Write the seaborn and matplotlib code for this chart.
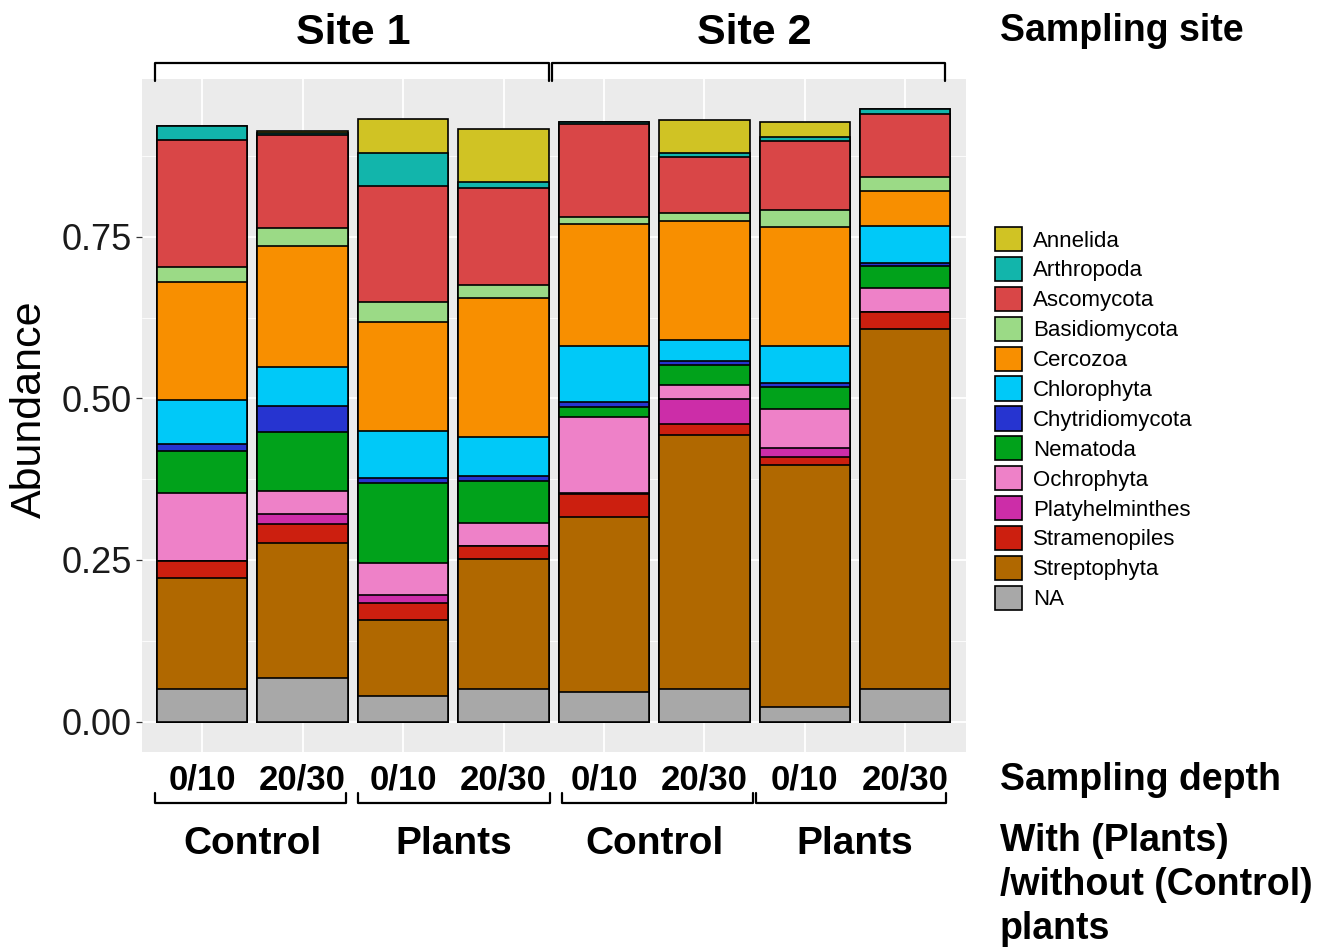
import numpy as np
import pandas as pd
import matplotlib
matplotlib.use("Agg")
import matplotlib.pyplot as plt
from matplotlib import font_manager
from matplotlib.patches import Patch
from matplotlib.lines import Line2D
from matplotlib.transforms import blended_transform_factory
from matplotlib.ticker import FixedLocator
import seaborn as sns

# ---- data -------------------------------------------------------------
samples = ["S1_C_0/10", "S1_C_20/30", "S1_P_0/10", "S1_P_20/30",
           "S2_C_0/10", "S2_C_20/30", "S2_P_0/10", "S2_P_20/30"]
depth_labels = ["0/10", "20/30", "0/10", "20/30", "0/10", "20/30", "0/10", "20/30"]
treatment_labels = ["Control", "Plants", "Control", "Plants"]
site_labels = ["Site 1", "Site 2"]

# relative abundance of each phylum per sample (bars are stacked, first on top)
annelida        = [0.000, 0.003, 0.052, 0.082, 0.000, 0.050, 0.023, 0.000]
arthropoda      = [0.023, 0.002, 0.051, 0.009, 0.004, 0.006, 0.006, 0.007]
ascomycota      = [0.196, 0.145, 0.180, 0.151, 0.144, 0.088, 0.106, 0.098]
basidiomycota   = [0.023, 0.028, 0.031, 0.019, 0.010, 0.011, 0.027, 0.021]
cercozoa        = [0.183, 0.187, 0.168, 0.215, 0.189, 0.184, 0.184, 0.054]
chlorophyta     = [0.068, 0.060, 0.073, 0.061, 0.087, 0.033, 0.058, 0.057]
chytridiomycota = [0.010, 0.040, 0.008, 0.008, 0.007, 0.006, 0.005, 0.005]
nematoda        = [0.065, 0.092, 0.124, 0.065, 0.016, 0.032, 0.034, 0.035]
ochrophyta      = [0.106, 0.035, 0.049, 0.036, 0.117, 0.021, 0.060, 0.036]
platyhelminthes = [0.000, 0.016, 0.013, 0.000, 0.002, 0.038, 0.015, 0.000]
stramenopiles   = [0.026, 0.029, 0.026, 0.019, 0.035, 0.017, 0.012, 0.027]
streptophyta    = [0.172, 0.209, 0.118, 0.202, 0.271, 0.394, 0.374, 0.557]
na_taxon        = [0.050, 0.067, 0.039, 0.050, 0.046, 0.050, 0.023, 0.050]

taxa = ["Annelida", "Arthropoda", "Ascomycota", "Basidiomycota", "Cercozoa",
        "Chlorophyta", "Chytridiomycota", "Nematoda", "Ochrophyta",
        "Platyhelminthes", "Stramenopiles", "Streptophyta", "NA"]
values = [annelida, arthropoda, ascomycota, basidiomycota, cercozoa,
          chlorophyta, chytridiomycota, nematoda, ochrophyta,
          platyhelminthes, stramenopiles, streptophyta, na_taxon]
colors = ["#D0C324", "#12B5AB", "#D94647", "#9BDA86", "#F88F00",
          "#00C9F8", "#2634D0", "#01A21B", "#EE81C8", "#CC2DA8",
          "#CC1F0F", "#B06800", "#A8A8A8"]

# ---- fonts ------------------------------------------------------------
def available(name):
    try:
        font_manager.findfont(font_manager.FontProperties(family=name),
                              fallback_to_default=False)
        return True
    except Exception:
        return False

regular = "Liberation Sans" if available("Liberation Sans") else "DejaVu Sans"
narrow = "Liberation Sans Narrow" if available("Liberation Sans Narrow") else regular
is_narrow = narrow != regular

sns.set_theme(style="darkgrid")
plt.rcParams["font.family"] = [regular, "DejaVu Sans"]
plt.rcParams["text.color"] = "black"

W, H = 1326, 949
fig = plt.figure(figsize=(W / 100, H / 100), dpi=100)
fig.patch.set_facecolor("white")
ax = fig.add_axes([142 / W, 1 - 752 / H, (965.5 - 142) / W, (752 - 79) / H])

# ---- stacked bars: draw cumulative totals from the top layer down -------
df = pd.DataFrame({t: v for t, v in zip(taxa, values)}, index=samples)
cum = df[taxa[::-1]].cumsum(axis=1)          # NA at the bottom, Annelida on top
long = cum.reset_index().rename(columns={"index": "sample"})

for taxon, col in zip(taxa, colors):
    sns.barplot(data=long, x="sample", y=taxon, order=samples, color=col,
                saturation=1, width=0.9, edgecolor="black", linewidth=1.2,
                errorbar=None, ax=ax)

ax.set_xlim(-0.6, 7.6)
ax.set_ylim(-0.047, 0.994)
ax.set_facecolor("#EBEBEB")
for s in ax.spines.values():
    s.set_visible(False)
ax.set_axisbelow(True)
ax.set_yticks([0, 0.25, 0.5, 0.75])
ax.set_yticklabels(["0.00", "0.25", "0.50", "0.75"])
ax.yaxis.set_minor_locator(FixedLocator([0.125, 0.375, 0.625, 0.875]))
ax.grid(which="major", color="white", linewidth=1.3)
ax.grid(which="minor", axis="y", color="white", linewidth=0.6)
ax.grid(which="minor", axis="x", visible=False)
ax.tick_params(axis="y", which="major", length=4.5, width=0.9, color="#333333",
               pad=3, labelsize=26, labelcolor="#1A1A1A", left=True)
ax.tick_params(axis="y", which="minor", length=0)
ax.tick_params(axis="x", length=0, labelbottom=False)
ax.set_xlabel("")
ax.set_ylabel("")

fig.text(30 / W, 1 - 409 / H, "Abundance", rotation=90, ha="center", va="center",
         fontsize=31, color="black")

# ---- group annotations -------------------------------------------------
tr = blended_transform_factory(ax.transData, fig.transFigure)

def fy(py):
    return 1 - py / H

def bracket(x0, x1, y_line, y_end):
    xs = [x0, x0, x1, x1]
    ys = [fy(y_end), fy(y_line), fy(y_line), fy(y_end)]
    fig.add_artist(Line2D(xs, ys, transform=tr, color="black", linewidth=1.6,
                          solid_joinstyle="round", clip_on=False))

site_size = 34 if is_narrow else 31
depth_size = 30 if is_narrow else 25
treat_size = 30 if is_narrow else 28
label_family = [narrow, "DejaVu Sans"]

# sites on top
bracket(-0.47, 3.45, 63, 81)
bracket(3.48, 7.40, 63, 81)
for i, lab in enumerate(site_labels):
    fig.text(1.5 + 4 * i, fy(44), lab, transform=tr, ha="center", va="baseline",
             fontsize=site_size, fontweight="bold", family=label_family)

# depths under each bar
for i, lab in enumerate(depth_labels):
    fig.text(i, fy(790), lab, transform=tr, ha="center", va="baseline",
             fontsize=depth_size, fontweight="bold", family=label_family)

# treatments
for (x0, x1) in [(-0.47, 1.43), (1.55, 3.46), (3.58, 5.48), (5.51, 7.41)]:
    bracket(x0, x1, 803, 793)
for i, lab in enumerate(treatment_labels):
    fig.text(0.5 + 2 * i, fy(854), lab, transform=tr, ha="center", va="baseline",
             fontsize=treat_size, fontweight="bold", family=label_family)

# right-hand captions
fig.text(1000 / W, fy(41), "Sampling site", ha="left", va="baseline",
         fontsize=27, fontweight="bold")
fig.text(1000 / W, fy(790), "Sampling depth", ha="left", va="baseline",
         fontsize=27, fontweight="bold")
for j, line in enumerate(["With (Plants)", "/without (Control)", "plants"]):
    fig.text(1000 / W, fy(851 + 44 * j), line, ha="left", va="baseline",
             fontsize=27, fontweight="bold")

# ---- legend ------------------------------------------------------------
handles = [Patch(facecolor=c, edgecolor="black", linewidth=1.2, label=t)
           for t, c in zip(taxa, colors)]
fig.legend(handles=handles, loc="upper left",
           bbox_to_anchor=(995 / W, fy(227)), frameon=False, fontsize=16,
           handlelength=1.2, handleheight=1.3, labelspacing=0.24,
           handletextpad=0.5, borderpad=0, borderaxespad=0)

fig.savefig("out.png", dpi=100, facecolor="white")
